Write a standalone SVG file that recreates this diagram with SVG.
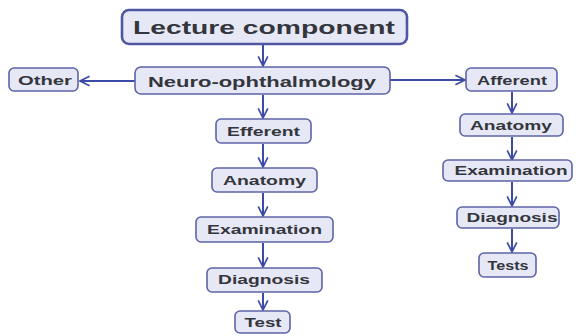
<svg xmlns="http://www.w3.org/2000/svg" width="576" height="336" viewBox="0 0 576 336">
<defs>
<style>
.box{fill:#e7e8f6;stroke:#5d64a8;stroke-width:1.6}
.main{fill:#e7e8f6;stroke:#4f57a3;stroke-width:2.6}
.t{font-family:"Liberation Sans",Arial,sans-serif;font-weight:bold;fill:#34363d;text-anchor:middle;font-size:13px}
.c{stroke:#3d4ba8;stroke-width:2;fill:none;marker-end:url(#ah)}
</style>
<marker id="ah" viewBox="0 0 10 10" refX="9" refY="5" markerWidth="6" markerHeight="6" orient="auto" markerUnits="strokeWidth">
<path d="M1,1 L9,5 L1,9" fill="none" stroke="#3d4ba8" stroke-width="1.4" stroke-linejoin="miter"/>
</marker>
</defs>
<rect width="576" height="336" fill="#ffffff"/>
<g id="connectors">
<line class="c" x1="263" y1="45" x2="263" y2="66"/>
<line class="c" x1="135" y1="81" x2="80" y2="81"/>
<line class="c" x1="390" y1="80" x2="465" y2="80"/>
<line class="c" x1="263" y1="95" x2="263" y2="118"/>
<line class="c" x1="263" y1="144" x2="263" y2="167"/>
<line class="c" x1="263" y1="193" x2="263" y2="216"/>
<line class="c" x1="263" y1="243" x2="263" y2="267"/>
<line class="c" x1="263" y1="293" x2="263" y2="310"/>
<line class="c" x1="512" y1="92" x2="512" y2="113"/>
<line class="c" x1="512" y1="137" x2="512" y2="160"/>
<line class="c" x1="512" y1="182" x2="512" y2="206"/>
<line class="c" x1="512" y1="229" x2="512" y2="252"/>
</g>
<g id="lecture">
<rect class="main" x="122" y="10" width="285" height="34" rx="7"/>
<text class="t" x="264" y="34" style="font-size:18px" textLength="262" lengthAdjust="spacingAndGlyphs">Lecture component</text>
</g>
<g id="neuro">
<rect class="box" x="135" y="67" width="255" height="27" rx="6"/>
<text class="t" x="262" y="86.5" style="font-size:14.5px" textLength="228" lengthAdjust="spacingAndGlyphs">Neuro-ophthalmology</text>
</g>
<g id="other">
<rect class="box" x="9" y="68" width="69" height="23" rx="5"/>
<text class="t" x="45" y="84.5" textLength="54" lengthAdjust="spacingAndGlyphs">Other</text>
</g>
<g id="afferent">
<rect class="box" x="466" y="68" width="91" height="23" rx="5"/>
<text class="t" x="512" y="84.5" textLength="70" lengthAdjust="spacingAndGlyphs">Afferent</text>
</g>
<g id="anatomy-r">
<rect class="box" x="460" y="114" width="103" height="22" rx="5"/>
<text class="t" x="511" y="130" textLength="82" lengthAdjust="spacingAndGlyphs">Anatomy</text>
</g>
<g id="examination-r">
<rect class="box" x="443" y="160" width="129" height="21" rx="5"/>
<text class="t" x="511" y="175" textLength="113" lengthAdjust="spacingAndGlyphs">Examination</text>
</g>
<g id="diagnosis-r">
<rect class="box" x="457" y="207" width="102" height="21" rx="5"/>
<text class="t" x="512" y="222" textLength="91" lengthAdjust="spacingAndGlyphs">Diagnosis</text>
</g>
<g id="tests">
<rect class="box" x="479" y="253" width="57" height="24" rx="5"/>
<text class="t" x="508" y="270" textLength="41" lengthAdjust="spacingAndGlyphs">Tests</text>
</g>
<g id="efferent">
<rect class="box" x="216" y="119" width="95" height="24" rx="5"/>
<text class="t" x="263.5" y="135.5" textLength="73" lengthAdjust="spacingAndGlyphs">Efferent</text>
</g>
<g id="anatomy-l">
<rect class="box" x="212" y="168" width="105" height="24" rx="5"/>
<text class="t" x="264.5" y="184.5" textLength="83" lengthAdjust="spacingAndGlyphs">Anatomy</text>
</g>
<g id="examination-l">
<rect class="box" x="196" y="217" width="137" height="25" rx="5"/>
<text class="t" x="264.5" y="234" textLength="115" lengthAdjust="spacingAndGlyphs">Examination</text>
</g>
<g id="diagnosis-l">
<rect class="box" x="207" y="268" width="115" height="24" rx="5"/>
<text class="t" x="264" y="284" textLength="92" lengthAdjust="spacingAndGlyphs">Diagnosis</text>
</g>
<g id="test">
<rect class="box" x="235" y="311" width="55" height="22" rx="5"/>
<text class="t" x="263" y="326.5" textLength="37" lengthAdjust="spacingAndGlyphs">Test</text>
</g>
</svg>
